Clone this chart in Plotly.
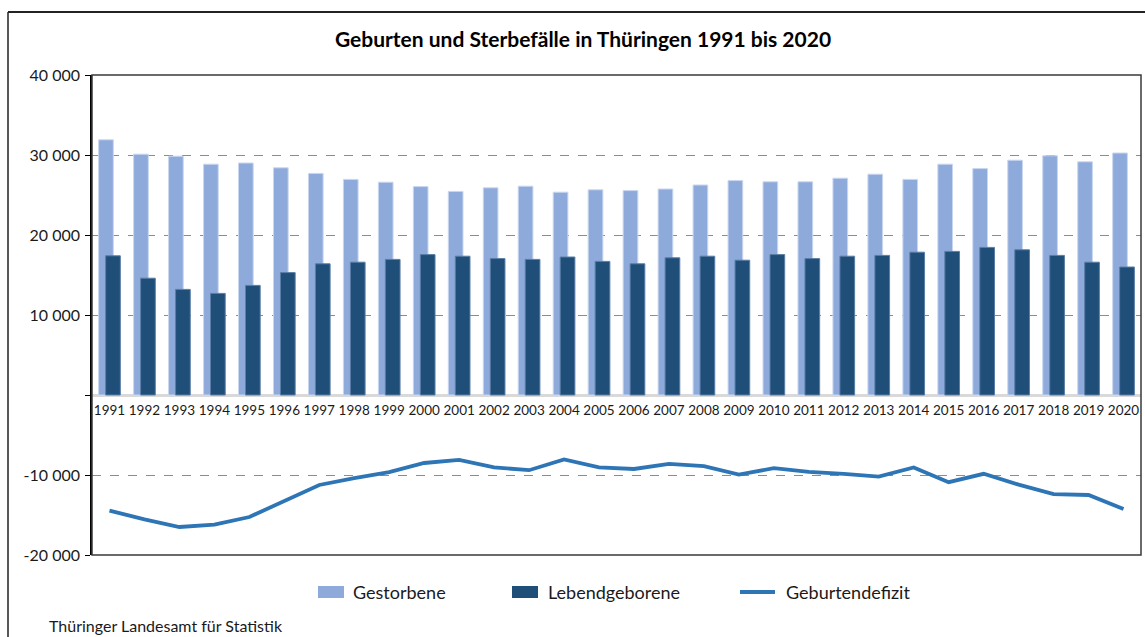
import plotly.graph_objects as go

# Werte
jahre = [str(j) for j in range(1991, 2021)]
gestorbene = [31900, 30100, 29850, 28850, 29000, 28400, 27700, 26950, 26600, 26050,
              25450, 25900, 26100, 25350, 25650, 25550, 25750, 26250, 26800, 26650,
              26650, 27100, 27600, 26950, 28850, 28300, 29350, 29900, 29150, 30250]
lebendgeborene = [17400, 14600, 13200, 12700, 13700, 15300, 16400, 16600, 16950, 17550,
                  17350, 17050, 16950, 17250, 16700, 16400, 17150, 17350, 16850, 17550,
                  17050, 17350, 17450, 17850, 17950, 18450, 18150, 17450, 16600, 16000]
geburtendefizit = [-14450, -15550, -16500, -16200, -15250, -13250, -11250, -10400, -9650, -8500,
                   -8100, -9050, -9400, -8050, -9050, -9250, -8600, -8900, -9950, -9150,
                   -9600, -9850, -10200, -9050, -10900, -9850, -11200, -12400, -12500, -14250]

y_ticks = [40000, 30000, 20000, 10000, 0, -10000, -20000]
y_labels = ['40 000', '30 000', '20 000', '10 000', '', '-10 000', '-20 000']

HELL = '#8eaadb'
DUNKEL = '#1f4e79'
LINIE = '#2e75b6'
FONT = 'Lato, Open Sans, sans-serif'

# Pixelmaße des Plotbereichs (für Rahmen/Legende/Fußzeile in Paper-Koordinaten)
L, R, T, B = 92, 1141, 75, 555
W, H = R - L, B - T


def px_x(x):
    return (x - L) / W


def px_y(y):
    return (B - y) / H


fig = go.Figure()
fig.add_trace(go.Bar(
    x=jahre, y=gestorbene, name='Gestorbene',
    marker=dict(color=HELL, line=dict(color='#c9d7ef', width=1)),
    width=0.42, offset=-0.31
))
fig.add_trace(go.Bar(
    x=jahre, y=lebendgeborene, name='Lebendgeborene',
    marker=dict(color=DUNKEL, line=dict(color='#5a7ea6', width=1)),
    width=0.42, offset=-0.11
))
fig.add_trace(go.Scatter(
    x=jahre, y=geburtendefizit, name='Geburtendefizit',
    mode='lines', line=dict(color=LINIE, width=3.8)
))

shapes = [
    # Rahmen Plotbereich
    dict(type='rect', xref='paper', yref='paper', x0=0, x1=1, y0=0, y1=1,
         line=dict(color='#3a3a3a', width=1.5), layer='above'),
    # äußerer Diagrammrahmen
    dict(type='line', xref='paper', yref='paper', x0=px_x(8), x1=px_x(8),
         y0=px_y(12), y1=px_y(660), line=dict(color='#222222', width=1.5)),
    dict(type='line', xref='paper', yref='paper', x0=px_x(8), x1=px_x(1160),
         y0=px_y(12), y1=px_y(12), line=dict(color='#222222', width=2)),
]

# eigene Legende (breite Farbfelder wie im Original)
legende = [('Gestorbene', HELL, 'rect', 318, 351),
           ('Lebendgeborene', DUNKEL, 'rect', 512, 546),
           ('Geburtendefizit', LINIE, 'line', 740, 784)]
annotations = []
for text, farbe, art, x0, xt in legende:
    if art == 'rect':
        shapes.append(dict(type='rect', xref='paper', yref='paper',
                           x0=px_x(x0), x1=px_x(x0 + 26), y0=px_y(598), y1=px_y(586),
                           fillcolor=farbe, line=dict(width=0)))
    else:
        shapes.append(dict(type='line', xref='paper', yref='paper',
                           x0=px_x(x0), x1=px_x(x0 + 35), y0=px_y(592), y1=px_y(592),
                           line=dict(color=farbe, width=3.8)))
    annotations.append(dict(text=text, xref='paper', yref='paper',
                            x=px_x(xt), y=px_y(592), xanchor='left', yanchor='middle',
                            showarrow=False, font=dict(size=18, color='#1a1a1a')))

annotations.append(dict(text='Thüringer Landesamt für Statistik', xref='paper', yref='paper',
                        x=px_x(47), y=px_y(625), xanchor='left', yanchor='middle',
                        showarrow=False, font=dict(size=16, color='#1a1a1a')))

fig.update_layout(
    width=1145, height=637,
    margin=dict(l=L, r=1145 - R, t=T, b=637 - B),
    paper_bgcolor='white', plot_bgcolor='white',
    barmode='overlay',
    font=dict(family=FONT, color='#1a1a1a'),
    title=dict(text='<b>Geburten und Sterbefälle in Thüringen 1991 bis 2020</b>',
               xref='container', x=583 / 1145, xanchor='center',
               yref='container', y=1 - 40 / 637, yanchor='middle',
               font=dict(size=21, color='black')),
    xaxis=dict(
        type='category', anchor='free', position=1 / 3,
        showline=False, ticks='', showgrid=False,
        tickfont=dict(size=13.5, color='#1a1a1a'), ticklabelstandoff=5,
        range=[-0.5, 29.5]
    ),
    yaxis=dict(
        range=[-20000, 40000], tickvals=y_ticks, ticktext=y_labels,
        showline=True, linecolor='black', linewidth=1.5,
        ticks='outside', ticklen=5, tickcolor='black',
        tickfont=dict(size=16, color='#1a1a1a'), ticklabelstandoff=2,
        showgrid=True, gridcolor='#8c8c8c', griddash='dash', gridwidth=1.3,
        zeroline=True, zerolinecolor='#d9d9d9', zerolinewidth=2.5
    ),
    showlegend=False,
    shapes=shapes,
    annotations=annotations
)

# Browser-Standardrand des <body> entfernen, damit die Pixelpositionen stimmen
fig.write_html('out.html', config={'displayModeBar': False},
               post_script="document.body.style.margin='0';")
